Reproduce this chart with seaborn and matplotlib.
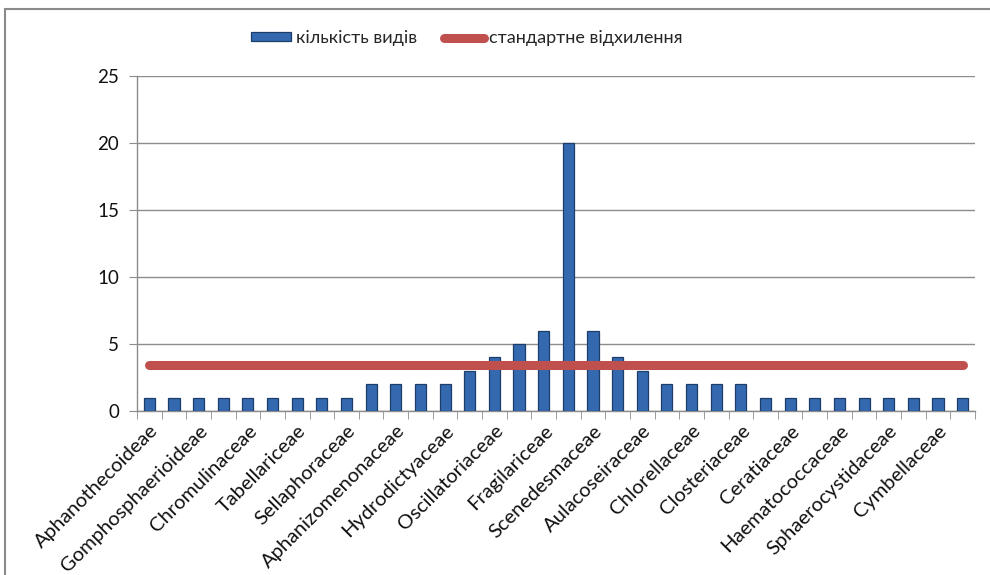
import numpy as np
import pandas as pd
import matplotlib
matplotlib.use("Agg")
import matplotlib.pyplot as plt
import seaborn as sns
from matplotlib.lines import Line2D
from matplotlib.patches import Patch

# ---- data ----
species_count = [1, 1, 1, 1, 1, 1, 1, 1, 1, 2, 2, 2, 2, 3, 4, 5, 6, 20,
                 6, 4, 3, 2, 2, 2, 2, 1, 1, 1, 1, 1, 1, 1, 1, 1]
std_dev = 3.4
tick_labels = ["Aphanothecoideae", "Gomphosphaerioideae", "Chromulinaceae",
               "Tabellariceae", "Sellaphoraceae", "Aphanizomenonaceae",
               "Hydrodictyaceae", "Oscillatoriaceae", "Fragilariceae",
               "Scenedesmaceae", "Aulacoseiraceae", "Chlorellaceae",
               "Closteriaceae", "Ceratiaceae", "Haematococcaceae",
               "Sphaerocystidaceae", "Cymbellaceae"]
y_ticks = [0, 5, 10, 15, 20, 25]
legend_bar = "кількість видів"
legend_line = "стандартне відхилення"

sns.set_style("white")
plt.rcParams["font.family"] = ["Lato", "DejaVu Sans"]

n = len(species_count)
df = pd.DataFrame({"pos": np.arange(n), "count": species_count})

fig = plt.figure(figsize=(9.9, 5.75), dpi=100)
ax = fig.add_axes([137/990, 1-411/575, (975-137)/990, (411-76)/575])

bar_col = "#3469b0"
sns.barplot(data=df, x="pos", y="count", color=bar_col, width=0.45,
            edgecolor="#1d3d6b", linewidth=0.9, saturation=1, ax=ax, zorder=3)
sns.lineplot(x=df["pos"], y=[std_dev]*n, color="#c0504d", linewidth=6.5,
             solid_capstyle="round", ax=ax, zorder=4)

ax.set_xlim(-0.5, n - 0.5)
ax.set_ylim(0, 25)
ax.set_yticks(y_ticks)
ax.set_yticklabels([str(v) for v in y_ticks], fontsize=13.5, color="#111111")
ax.yaxis.grid(True, color="#8c8c8c", linewidth=1)
ax.set_axisbelow(True)
ax.tick_params(axis="y", length=6, color="#8c8c8c", pad=7, left=True)

ax.set_xticks(np.arange(0, n, 2))
ax.set_xticklabels(tick_labels, rotation=45, ha="right", rotation_mode="anchor",
                   fontsize=14.5, color="#111111")
ax.tick_params(axis="x", which="major", length=0, pad=8)
ax.set_xticks(np.arange(-0.5, n, 1), minor=True)
ax.tick_params(axis="x", which="minor", length=6, color="#8c8c8c", bottom=True)
ax.set_xlabel("")
ax.set_ylabel("")

for s in ["top", "right"]:
    ax.spines[s].set_visible(False)
for s in ["left", "bottom"]:
    ax.spines[s].set_color("#8c8c8c")
    ax.spines[s].set_linewidth(1)

handles = [Patch(facecolor=bar_col, edgecolor="#1d3d6b", linewidth=0.9),
           Line2D([0], [0], color="#c0504d", linewidth=6.5, solid_capstyle="round")]
fig.legend(handles, [legend_bar, legend_line], loc="center",
           bbox_to_anchor=(467/990, 1-38/575), ncol=2, frameon=False,
           fontsize=13, handlelength=2.2, handleheight=0.35,
           columnspacing=1.5, handletextpad=0.3)

# outer chart border (left and top)
fig.add_artist(Line2D([5/990, 5/990], [0, 1-9/575], color="#8a8a8a", linewidth=1.5,
                      transform=fig.transFigure))
fig.add_artist(Line2D([5/990, 1], [1-9/575, 1-9/575], color="#8a8a8a", linewidth=1.5,
                      transform=fig.transFigure))

fig.savefig("out.png", dpi=100)
